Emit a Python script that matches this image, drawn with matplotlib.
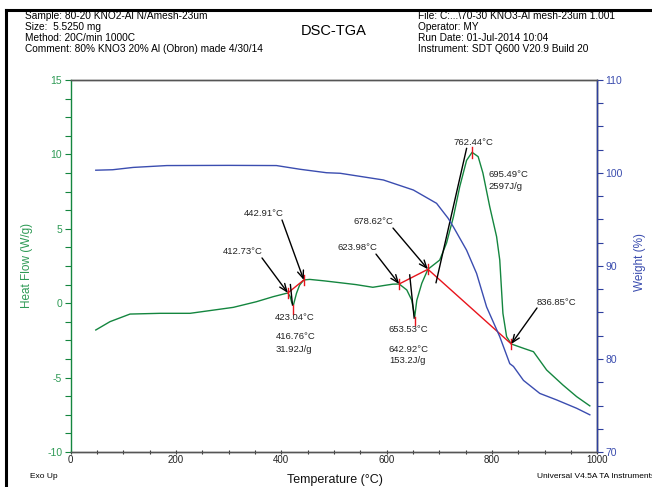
import matplotlib
matplotlib.use("Agg")
import matplotlib.pyplot as plt
from matplotlib.lines import Line2D
from matplotlib.ticker import MultipleLocator

plt.rcParams['font.family'] = ['Liberation Sans', 'DejaVu Sans']
plt.rcParams['axes.unicode_minus'] = False

# DSC heat flow (W/g) vs temperature (°C)
dsc_temp = [48, 75, 113, 170, 227, 264, 309, 353, 385, 412.73, 417, 420, 423.04,
            429, 435, 442.91, 454, 482, 511, 542, 574, 597, 612, 623.98, 638.5,
            648, 653.53, 657.5, 667, 678.62, 701, 714, 727, 739, 752, 762.44,
            774, 783, 796, 809, 815, 818, 821, 828, 836.85, 860, 879, 904, 935,
            961, 986]
dsc_flow = [-1.8, -1.24, -0.73, -0.68, -0.68, -0.5, -0.28, 0.1, 0.44, 0.69, 0.45,
            0.05, -0.15, 0.66, 1.22, 1.56, 1.6, 1.5, 1.38, 1.25, 1.07, 1.2, 1.28,
            1.29, 0.89, 0.2, -0.91, 0.2, 1.34, 2.28, 2.9, 4.05, 5.8, 7.83, 9.6,
            10.14, 9.85, 8.75, 6.48, 4.47, 2.9, 1.1, -0.68, -2.25, -2.74, -3.03,
            -3.26, -4.49, -5.5, -6.28, -6.9]

# TGA weight (%) vs temperature (°C)
tga_temp = [48, 80, 119, 183, 300, 391, 436, 486, 512, 594, 651, 695, 717, 727,
            752, 771, 790, 815, 834, 841, 860, 891, 923, 961, 986]
tga_weight = [100.3, 100.35, 100.6, 100.8, 100.82, 100.8, 100.4, 100.03, 99.97,
              99.25, 98.17, 96.74, 95.13, 94.2, 91.7, 89.2, 85.6, 82.4, 79.5,
              79.2, 77.7, 76.3, 75.6, 74.7, 74.0]

# Integration baselines (onset/end points)
base1_t = [412.73, 442.91]
base1_f = [0.69, 1.56]
base2_t = [623.98, 678.62, 836.85]
base2_f = [1.29, 2.28, -2.74]

# Onset tangent lines
tan1_t, tan1_f = [417.5, 421.5], [1.25, -0.12]
tan2_t, tan2_f = [644.0, 652.5], [1.9, -1.0]
tan3_t, tan3_f = [694.0, 752.0], [1.38, 10.4]

GREEN = '#14863f'
BLUE = '#3b4db0'
RED = '#e8141c'

fig = plt.figure(figsize=(6.52, 4.87), dpi=100)
ax = fig.add_axes([70.5 / 652, 35 / 487, (597.2 - 70.5) / 652, 372 / 487])
ax2 = ax.twinx()

ax.plot(dsc_temp, dsc_flow, color=GREEN, lw=1.0, zorder=3)
ax2.plot(tga_temp, tga_weight, color=BLUE, lw=1.0)

ax.set_xlim(0, 1000)
ax.set_ylim(-10, 15)
ax2.set_ylim(70, 110)

# baselines and tangents
ax.plot(base1_t, base1_f, color=RED, lw=1.0, zorder=4)
ax.plot(base2_t, base2_f, color=RED, lw=1.0, zorder=4)
for tt, ff in [(tan1_t, tan1_f), (tan2_t, tan2_f), (tan3_t, tan3_f)]:
    ax.plot(tt, ff, color='black', lw=1.0, zorder=4)

# red marker ticks at characteristic points
tick_pts = [(412.73, 0.69, 0), (442.91, 1.56, 0), (423.04, -0.15, -1),
            (623.98, 1.29, 0), (678.62, 2.28, 0), (653.53, -0.91, -1),
            (762.44, 10.14, 0), (836.85, -2.74, 0)]
for t, f, d in tick_pts:
    if d == 0:
        ax.plot([t, t], [f - 0.35, f + 0.35], color=RED, lw=1.0, zorder=5)
    else:
        ax.plot([t, t], [f, f - 0.55], color=RED, lw=1.0, zorder=5)

# annotations
fs = 6.8
labels = [
    ("412.73°C", 289.5, 3.5), ("442.91°C", 329.4, 6.0), ("423.04°C", 388.3, -0.99),
    ("416.76°C", 390.2, -2.27), ("31.92J/g", 390.2, -3.08),
    ("623.98°C", 506.0, 3.71), ("678.62°C", 538.2, 5.46), ("653.53°C", 604.7, -1.8),
    ("642.92°C", 604.7, -3.08), ("153.2J/g", 604.7, -3.88),
    ("762.44°C", 726.2, 10.77), ("695.49°C", 792.7, 8.62), ("2597J/g", 792.7, 7.81),
    ("836.85°C", 885.7, 0.08),
]
for s, x, y in labels:
    ax.text(x, y, s, fontsize=fs, ha='left', va='center', color='#222222', zorder=6)

arrows = [
    ((363.6, 3.04), (412.73, 0.69)),
    ((401.6, 5.59), (442.91, 1.56)),
    ((580.0, 3.3), (623.98, 1.29)),
    ((612.3, 5.05), (678.62, 2.28)),
    ((885.7, -0.32), (836.85, -2.74)),
]
for (x0, y0), (x1, y1) in arrows:
    ax.annotate('', xy=(x1, y1), xytext=(x0, y0),
                arrowprops=dict(arrowstyle='->,head_length=0.55,head_width=0.22',
                                color='black', lw=1.0, shrinkA=0, shrinkB=0),
                zorder=6)

# axes styling
ax.xaxis.set_major_locator(MultipleLocator(200))
ax.xaxis.set_minor_locator(MultipleLocator(50))
ax.yaxis.set_major_locator(MultipleLocator(5))
ax.yaxis.set_minor_locator(MultipleLocator(1.25))
ax2.yaxis.set_major_locator(MultipleLocator(10))
ax2.yaxis.set_minor_locator(MultipleLocator(2.5))

ax.spines['left'].set_color(GREEN)
ax.spines['top'].set_color('#555555')
ax.spines['bottom'].set_color('#555555')
ax2.spines['right'].set_color('#2e3f9e')
ax2.spines['left'].set_visible(False)
ax2.spines['top'].set_color('#555555')
ax2.spines['bottom'].set_color('#555555')
for sp in list(ax.spines.values()) + list(ax2.spines.values()):
    sp.set_linewidth(1.0)

ax.tick_params(axis='x', which='both', direction='inout', length=3, width=0.8,
               colors='#333333', labelsize=7, pad=1, labelcolor='#222222')
ax.tick_params(axis='y', which='both', direction='out', width=0.8, length=4,
               color=GREEN, labelcolor='#2e9a55', labelsize=7.5, pad=2)
ax2.tick_params(axis='y', which='both', direction='out', width=0.8, length=4,
                color='#2e3f9e', labelcolor='#3a4cae', labelsize=7.5, pad=2)

fig.text(27 / 652, 1 - 265 / 487, "Heat Flow (W/g)", rotation=90, color='#2e9a55',
         fontsize=8.5, ha='center', va='center')
fig.text(640 / 652, 1 - 262 / 487, "Weight (%)", rotation=90, color='#3a4cae',
         fontsize=8.5, ha='center', va='center')
fig.text(335 / 652, 1 - 480 / 487, "Temperature (°C)", color='#111111',
         fontsize=9, ha='center', va='center')
fig.text(30 / 652, 1 - 477 / 487, "Exo Up", fontsize=6, ha='left', va='center')
fig.text(537 / 652, 1 - 477 / 487, "Universal V4.5A TA Instruments", fontsize=6,
         ha='left', va='center')

# header block
left_hdr = ["Sample: 80-20 KNO2-Al N/Amesh-23um",
            "Size:  5.5250 mg",
            "Method: 20C/min 1000C",
            "Comment: 80% KNO3 20% Al (Obron) made 4/30/14"]
right_hdr = ["File: C:...\\70-30 KNO3-Al mesh-23um 1.001",
             "Operator: MY",
             "Run Date: 01-Jul-2014 10:04",
             "Instrument: SDT Q600 V20.9 Build 20"]
for i, (l, r) in enumerate(zip(left_hdr, right_hdr)):
    y = 1 - (16 + 11 * i) / 487
    fig.text(25 / 652, y, l, fontsize=7.3, ha='left', va='center')
    fig.text(418 / 652, y, r, fontsize=7.3, ha='left', va='center')
fig.text(334 / 652, 1 - 31 / 487, "DSC-TGA", fontsize=10.5, ha='center', va='center')

# page frame
fig.add_artist(Line2D([6 / 652, 6 / 652], [0, 1 - 10 / 487], color='black', lw=2.2,
                      transform=fig.transFigure))
fig.add_artist(Line2D([6 / 652, 1], [1 - 10 / 487, 1 - 10 / 487], color='black',
                      lw=2.2, transform=fig.transFigure))

fig.savefig("out.png", dpi=100)
